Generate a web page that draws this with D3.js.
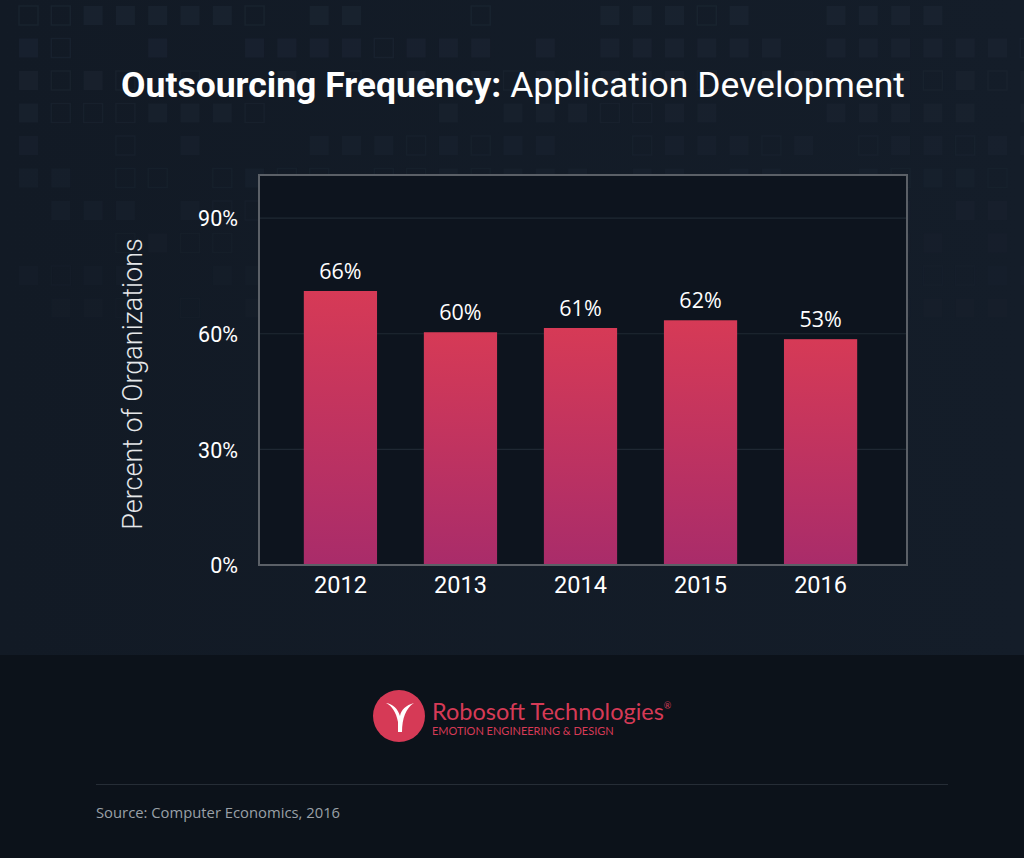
<!DOCTYPE html>
<html><head><meta charset="utf-8">
<script src="https://cdn.jsdelivr.net/npm/d3@7"></script>
<style>html,body{margin:0;padding:0;background:#0c121a;}svg{display:block;}</style>
</head><body>
<svg id="chart" width="1024" height="858"></svg>
<script>
const categories = ["2012", "2013", "2014", "2015", "2016"];
const barValues = [71.1, 60.4, 61.5, 63.5, 58.6];
const barLabels = ["66%", "60%", "61%", "62%", "53%"];
const yTicks = [0, 30, 60, 90];
const yTickLabels = ["0%", "30%", "60%", "90%"];

const W = 1024, H = 858;
const svg = d3.select("#chart");
const defs = svg.append("defs");

const bgGrad = defs.append("linearGradient").attr("id","bgGrad").attr("x1",0).attr("y1",0).attr("x2",1).attr("y2",0);
bgGrad.append("stop").attr("offset","0%").attr("stop-color","#121a25");
bgGrad.append("stop").attr("offset","100%").attr("stop-color","#141d29");

const barGrad = defs.append("linearGradient").attr("id","barGrad").attr("x1",0).attr("y1",0).attr("x2",0).attr("y2",1);
barGrad.append("stop").attr("offset","0%").attr("stop-color","#d63a56");
barGrad.append("stop").attr("offset","100%").attr("stop-color","#a92c6a");

// backgrounds
svg.append("rect").attr("x",0).attr("y",0).attr("width",W).attr("height",655).attr("fill","url(#bgGrad)");
svg.append("rect").attr("x",0).attr("y",655).attr("width",W).attr("height",H-655).attr("fill","#0c121a");

// decorative square pattern (deterministic)
const deco = svg.append("g");
function hash(i,j){ let h = (i*374761393 + j*668265263) >>> 0; h = ((h ^ (h>>>13)) * 1274126177) >>> 0; return (h ^ (h>>>16)) % 1000 / 1000; }
for (let r = 0; r < 10; r++) {
  for (let c = 0; c < 32; c++) {
    const x = 18 + c*32.3, y = 5 + r*32.5;
    const h = hash(c+3, r+7);
    const fade = Math.max(0, 1 - r/9);
    if (h < 0.45) {
      const filled = h < 0.06;
      deco.append("rect").attr("x",x+1).attr("y",y+1).attr("width",19).attr("height",19)
        .attr("fill", filled ? "#1a2330" : "none")
        .attr("stroke", filled ? "none" : "#1a2430").attr("stroke-width",1.5)
        .attr("opacity", 0.25 + 0.6*fade);
    }
  }
}

// title
const title = svg.append("text").attr("x",513).attr("y",97).attr("text-anchor","middle")
  .attr("font-family","Roboto").attr("font-size",35.5).attr("fill","#ffffff");
title.append("tspan").attr("font-weight","bold").text("Outsourcing Frequency:");
title.append("tspan").attr("font-weight","normal").text(" Application Development");

// plot
const plotL = 259, plotR = 907, plotT = 175, plotB = 565;
const y = d3.scaleLinear().domain([0, 101.2]).range([plotB, plotT]);
const x = d3.scaleBand().domain(categories).range([257, 904]).paddingInner(0.39).paddingOuter(0.39);

svg.append("rect").attr("x",plotL).attr("y",plotT).attr("width",plotR-plotL).attr("height",plotB-plotT)
  .attr("fill","#0d141e");

// gridlines
svg.append("g").selectAll("line").data(yTicks.filter(d=>d>0)).join("line")
  .attr("x1",plotL).attr("x2",plotR).attr("y1",d=>y(d)).attr("y2",d=>y(d))
  .attr("stroke","#1f2833").attr("stroke-width",1.2);

// y axis labels via d3 axis
const yAxis = d3.axisLeft(y).tickValues(yTicks).tickFormat((d,i)=>yTickLabels[i]).tickSize(0).tickPadding(0);
const ya = svg.append("g").attr("transform",`translate(238,0)`).call(yAxis);
ya.select(".domain").remove();
ya.selectAll("text").attr("font-family","Roboto").attr("font-size",21.5).attr("fill","#ffffff").attr("dy","0.36em");

// bars
svg.append("g").selectAll("rect").data(barValues).join("rect")
  .attr("x",(d,i)=>x(categories[i])).attr("width",x.bandwidth())
  .attr("y",d=>y(d)).attr("height",d=>plotB - y(d))
  .attr("fill","url(#barGrad)");

// bar labels
svg.append("g").selectAll("text").data(barValues).join("text")
  .attr("x",(d,i)=>x(categories[i]) + x.bandwidth()/2).attr("y",d=>y(d)-12)
  .attr("text-anchor","middle").attr("font-family","Open Sans").attr("font-size",21.5).attr("fill","#ffffff")
  .text((d,i)=>barLabels[i]);

// frame
svg.append("rect").attr("x",plotL).attr("y",plotT).attr("width",plotR-plotL).attr("height",plotB-plotT)
  .attr("fill","none").attr("stroke","#5b6067").attr("stroke-width",2);

// x axis labels
const xAxis = d3.axisBottom(x).tickSize(0).tickPadding(0);
const xa = svg.append("g").attr("transform",`translate(0,${plotB})`).call(xAxis);
xa.select(".domain").remove();
xa.selectAll("text").attr("font-family","Roboto").attr("font-size",23.5).attr("fill","#ffffff").attr("dy",null).attr("y",27.5);

// y title
svg.append("text").attr("transform","translate(142,384) rotate(-90)").attr("text-anchor","middle")
  .attr("font-family","Roboto").attr("font-weight",300).attr("font-size",27).attr("fill","#e6e8ea")
  .text("Percent of Organizations");

// logo
const logo = svg.append("g");
logo.append("circle").attr("cx",399).attr("cy",716).attr("r",26).attr("fill","#d63a56");
logo.append("path").attr("d","M386,703 C392,706 396,712 398,722 L398,732 L402,732 C402,718 406,708 414,703 C406,705 401,710 400,716 C398,709 393,704 386,703 Z").attr("fill","#ffffff");
const lt = svg.append("text").attr("x",432).attr("y",720).attr("font-family","Lato").attr("font-size",23.5).attr("fill","#d63a56");
lt.append("tspan").text("Robosoft Technologies");
lt.append("tspan").attr("font-size",9).attr("dy",-11).text("®");
svg.append("text").attr("x",432).attr("y",735).attr("font-family","Lato").attr("font-size",11).attr("fill","#d63a56")
  .text("EMOTION ENGINEERING & DESIGN");

// separator and source
svg.append("line").attr("x1",96).attr("x2",948).attr("y1",784.5).attr("y2",784.5).attr("stroke","#262d36").attr("stroke-width",1);
svg.append("text").attr("x",96).attr("y",818).attr("font-family","Open Sans").attr("font-size",14.8).attr("fill","#9aa0a7")
  .text("Source: Computer Economics, 2016");
</script>
</body></html>
